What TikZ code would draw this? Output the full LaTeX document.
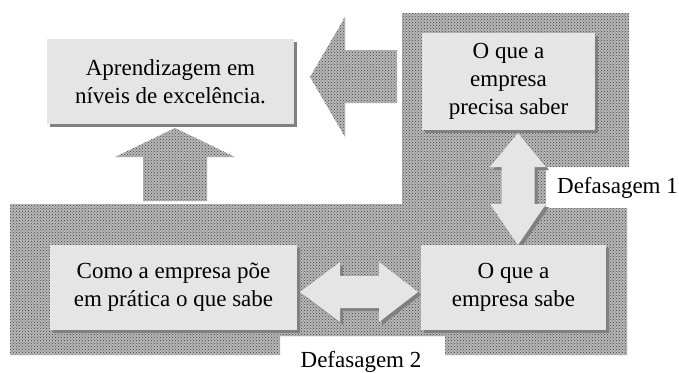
\documentclass[tikz,border=0pt]{standalone}
\usepackage{fontspec}
\setmainfont{Liberation Serif}
\usetikzlibrary{patterns,shadows}
\begin{document}
\begin{tikzpicture}[x=1pt,y=-1pt,
  txt/.style={font=\fontsize{23}{28}\selectfont, align=center, inner sep=0pt},
  box/.style={txt, fill=black!10, draw=none,
    copy shadow={shadow xshift=3pt, shadow yshift=-3pt, fill=black!50, draw=none}},
  hatch/.style={fill=black!28, postaction={pattern=crosshatch dots, pattern color=black!75}},
  light/.style={fill=black!10},
  shade/.style={fill=black!50}]
\useasboundingbox (0,0) rectangle (679,372);

% patterned background region
\path[hatch] (10,204) -- (402,204) -- (402,13) -- (629,13) -- (629,167) -- (546,167)
  -- (546,208) -- (627,208) -- (627,355) -- (445,355) -- (445,336) -- (280,336)
  -- (280,355) -- (10,355) -- cycle;

% patterned arrows
\path[hatch] (310,77) -- (345,17) -- (345,50) -- (397,50) -- (397,103) -- (345,103)
  -- (345,137) -- cycle;
\path[hatch] (175,128) -- (235,157) -- (207,157) -- (207,201) -- (143,201) -- (143,157)
  -- (115,157) -- cycle;

% light double arrows with shadow
\begin{scope}[shift={(3,3)}]
\path[shade] (518,133) -- (546,167) -- (534.5,167) -- (534.5,204) -- (546,204) -- (518,245)
  -- (490,204) -- (501.5,204) -- (501.5,167) -- (490,167) -- cycle;
\path[shade] (300,292) -- (340,262) -- (340,276) -- (379,276) -- (379,262) -- (418,292)
  -- (379,322) -- (379,308) -- (340,308) -- (340,322) -- cycle;
\end{scope}
\path[light] (518,133) -- (546,167) -- (534.5,167) -- (534.5,204) -- (546,204) -- (518,245)
  -- (490,204) -- (501.5,204) -- (501.5,167) -- (490,167) -- cycle;
\path[light] (300,292) -- (340,262) -- (340,276) -- (379,276) -- (379,262) -- (418,292)
  -- (379,322) -- (379,308) -- (340,308) -- (340,322) -- cycle;

% boxes
\node[box, minimum width=247, minimum height=85] (b1) at (170.5,81.5)
  {Aprendizagem em\\níveis de excelência.};
\node[box, minimum width=173, minimum height=97] (b2) at (508.5,81.5)
  {O que a\\empresa\\precisa saber};
\node[box, minimum width=247, minimum height=85] (b3) at (173.5,287.5)
  {Como a empresa põe\\em prática o que sabe};
\node[box, minimum width=185, minimum height=85] (b4) at (513.5,287.5)
  {O que a\\empresa sabe};

% labels
\node[txt] (d1) at (617.5,188) {Defasagem 1};
\node[txt] (d2) at (361,362) {Defasagem 2};
\end{tikzpicture}
\end{document}
